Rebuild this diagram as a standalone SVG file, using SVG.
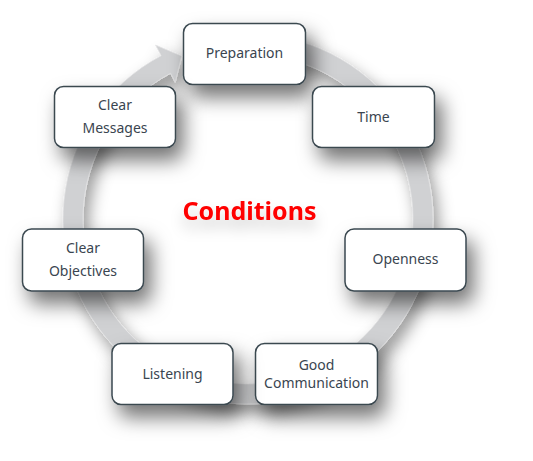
<svg xmlns="http://www.w3.org/2000/svg" width="533" height="461" viewBox="0 0 533 461">
<defs>
<filter id="boxShadow" x="-50%" y="-50%" width="220%" height="250%">
<feDropShadow dx="7" dy="12" stdDeviation="10" flood-color="#000" flood-opacity="0.55"/>
</filter>
<filter id="ringShadow" x="-20%" y="-20%" width="150%" height="150%">
<feDropShadow dx="5" dy="9" stdDeviation="8" flood-color="#000" flood-opacity="0.4"/>
</filter>
<filter id="textShadow" x="-30%" y="-60%" width="160%" height="300%">
<feDropShadow dx="0" dy="9" stdDeviation="7" flood-color="#000" flood-opacity="0.2"/>
</filter>
</defs>
<style>
.box{fill:#ffffff;stroke:#3b4850;stroke-width:1.5;filter:url(#boxShadow)}
.lbl{font-family:"Noto Sans","Open Sans",sans-serif;font-size:14px;fill:#3a4550;text-anchor:middle}
.title{font-family:"Noto Sans","Open Sans",sans-serif;font-size:25px;font-weight:bold;fill:#ff0000;text-anchor:middle;filter:url(#textShadow)}
.ring{fill:#d0d1d3;stroke:#e4e5e6;stroke-width:0.8;filter:url(#ringShadow)}
</style>
<rect width="533" height="461" fill="#ffffff"/>
<g id="connectors">
<path class="ring" d="M231.88,34.70 A185,185 0 1 1 161.15,55.65 L155.51,45.06 L181.7,56.0 L175.23,82.14 L170.54,73.31 A165,165 0 1 0 233.62,54.63 Z"/>
</g>
<text class="title" x="249.5" y="220">Conditions</text>
<g id="preparation">
<rect class="box" x="183.5" y="23.5" width="122" height="61" rx="9"/>
<text class="lbl" x="244.5" y="58">Preparation</text>
</g>
<g id="time">
<rect class="box" x="312.5" y="86.5" width="122" height="61" rx="9"/>
<text class="lbl" x="373.5" y="122">Time</text>
</g>
<g id="openness">
<rect class="box" x="345" y="229" width="121" height="62" rx="9"/>
<text class="lbl" x="405.5" y="264">Openness</text>
</g>
<g id="good-communication">
<rect class="box" x="255.5" y="343.5" width="122" height="61" rx="9"/>
<text class="lbl" x="316.5" y="369.5">Good</text>
<text class="lbl" x="316.5" y="387.5">Communication</text>
</g>
<g id="listening">
<rect class="box" x="112" y="343.5" width="121" height="61" rx="9"/>
<text class="lbl" x="172.5" y="379">Listening</text>
</g>
<g id="clear-objectives">
<rect class="box" x="22.5" y="229" width="121" height="62" rx="9"/>
<text class="lbl" x="83" y="253">Clear</text>
<text class="lbl" x="83" y="276">Objectives</text>
</g>
<g id="clear-messages">
<rect class="box" x="54.5" y="86.5" width="121" height="61" rx="9"/>
<text class="lbl" x="115" y="110">Clear</text>
<text class="lbl" x="115" y="133">Messages</text>
</g>
</svg>
